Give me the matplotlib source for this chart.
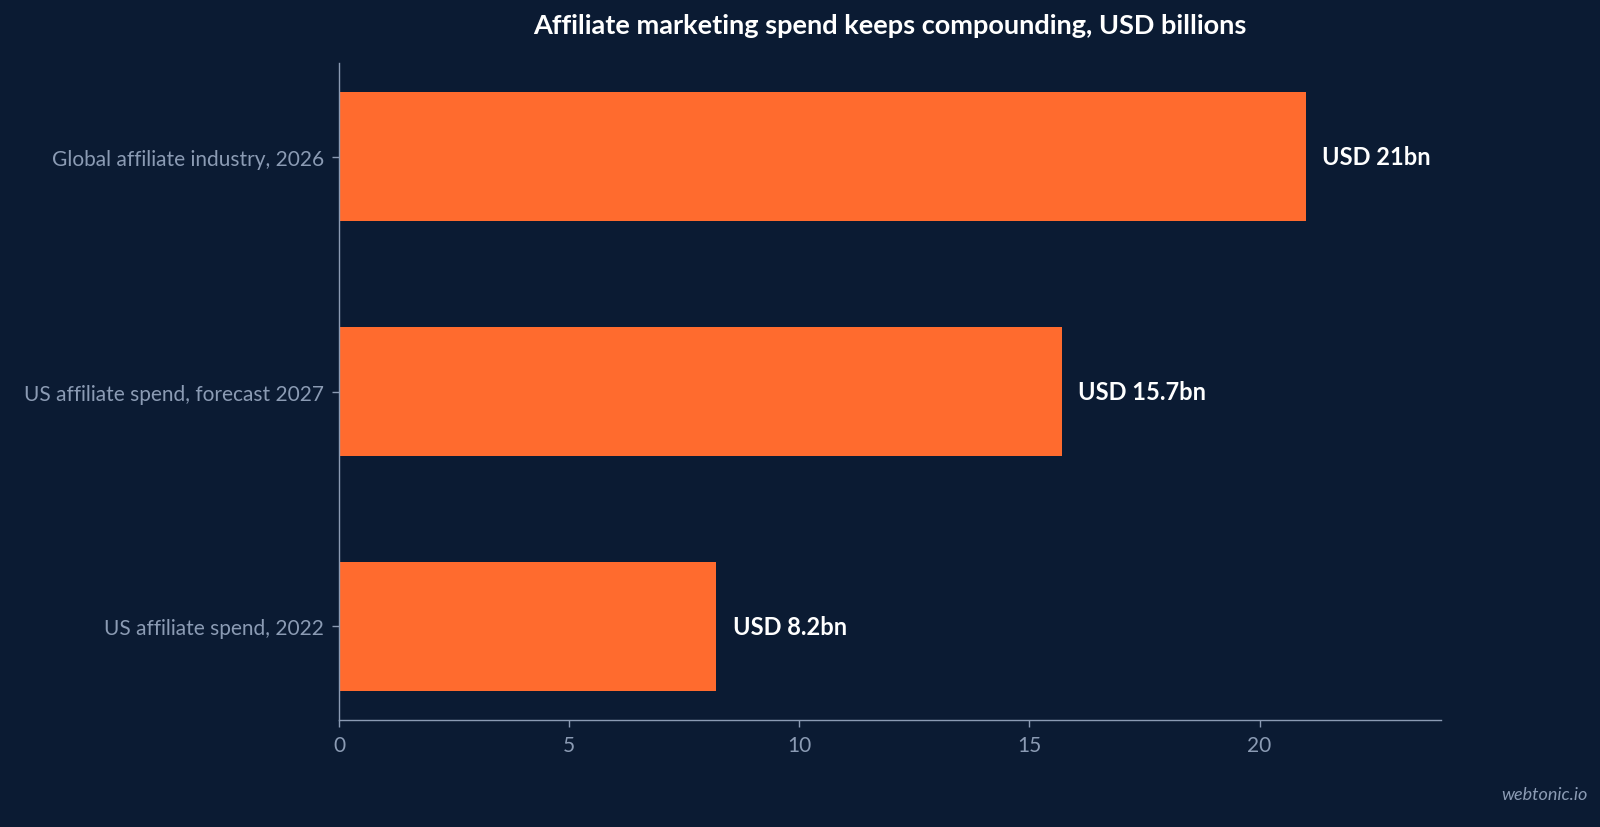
import matplotlib.pyplot as plt

# ---- data ----
categories = ["US affiliate spend, 2022", "US affiliate spend, forecast 2027", "Global affiliate industry, 2026"]
values = [8.2, 15.7, 21.0]
value_labels = ["USD 8.2bn", "USD 15.7bn", "USD 21bn"]
x_ticks = [0, 5, 10, 15, 20]

# ---- style ----
bg = "#0b1b33"
bar_color = "#ff6b2e"
muted = "#8b9bb4"

plt.rcParams['font.family'] = ['Lato', 'DejaVu Sans']

fig = plt.figure(figsize=(16, 8.28), dpi=100, facecolor=bg)
ax = fig.add_axes([0.2119, 0.1292, 0.6887, 0.7935], facecolor=bg)

y_pos = list(range(len(categories)))
ax.barh(y_pos, values, height=0.55, color=bar_color)

for y, v, lab in zip(y_pos, values, value_labels):
    ax.annotate(lab, xy=(v, y), xytext=(12, 0), textcoords="offset points",
                ha="left", va="center", color="white", fontsize=17, fontweight="bold")

ax.set_xlim(0, 23.94)
ax.set_ylim(-0.4, 2.4)
ax.set_yticks(y_pos)
ax.set_yticklabels(categories)
ax.set_xticks(x_ticks)

for side in ["top", "right"]:
    ax.spines[side].set_visible(False)
for side in ["left", "bottom"]:
    ax.spines[side].set_color(muted)
    ax.spines[side].set_linewidth(1.0)

ax.tick_params(axis="both", colors=muted, labelsize=15, length=5, width=1)
ax.tick_params(axis="x", pad=6)
ax.tick_params(axis="y", pad=6)

fig.text(0.5563, 0.969, "Affiliate marketing spend keeps compounding, USD billions",
         ha="center", va="center", color="white", fontsize=19.5, fontweight="bold")
fig.text(0.992, 0.04, "webtonic.io", ha="right", va="center", color=muted,
         fontsize=13, style="italic")

fig.savefig("out.png", dpi=100, facecolor=bg)
